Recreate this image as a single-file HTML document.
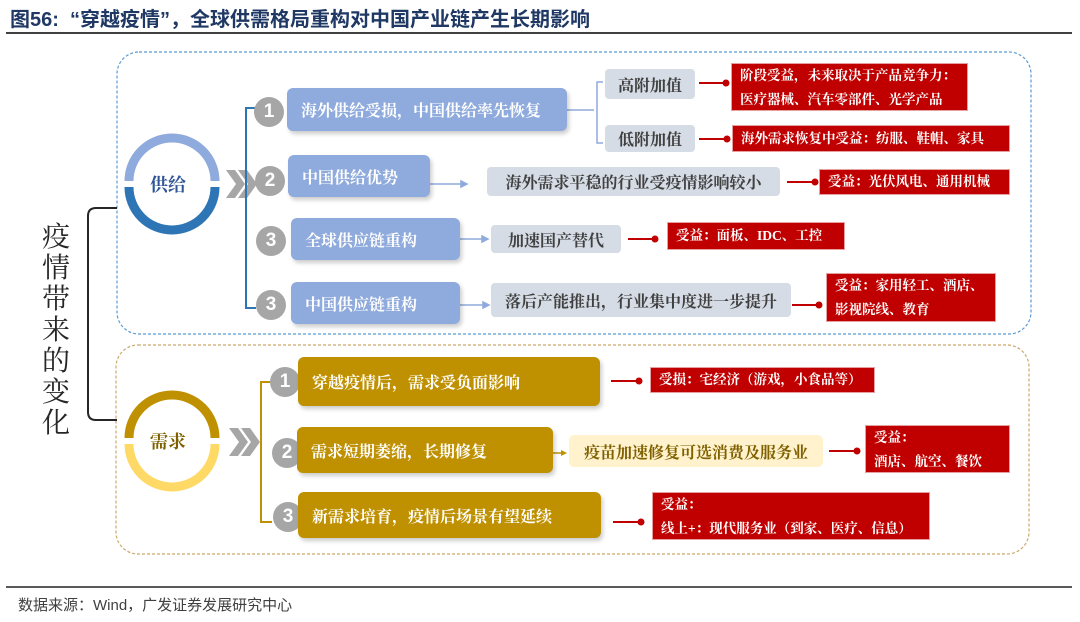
<!DOCTYPE html>
<html><head><meta charset="utf-8"><style>
*{margin:0;padding:0;box-sizing:border-box}
body{width:1080px;height:622px;background:#fff;position:relative;overflow:hidden;font-family:"Liberation Sans","Noto Sans CJK SC",sans-serif}
.a{position:absolute}
.t{display:flex;align-items:center;white-space:nowrap}
.serif{font-family:"Liberation Serif","Noto Serif CJK SC",serif;font-weight:bold}
.blue{background:#8faadc;color:#fff;border-radius:6px;font-size:16px;padding-left:14px;box-shadow:2px 3px 4px rgba(0,0,0,.2)}
.gold{background:#bf9000;color:#fff;border-radius:6px;font-size:16px;padding-left:14px;box-shadow:2px 3px 4px rgba(0,0,0,.2)}
.gray{background:#d6dce5;color:#404040;border-radius:4px;font-size:16px;justify-content:center}
.red{background:#c00000;color:#fff;font-size:13.5px;padding-left:8px;line-height:24px;border:1px solid #e6a0a0}
.num{width:30px;height:30px;border-radius:50%;background:#a6a6a6;color:#fff;font-size:19px;font-weight:bold;display:flex;align-items:center;justify-content:center;font-family:"Liberation Sans",sans-serif}
</style></head><body>
<div class="a" style="left:10px;top:3px;font-size:20px;font-weight:bold;color:#1f3864;white-space:nowrap">图<span style="font-family:'Liberation Sans'">56:</span>&nbsp;&nbsp;“穿越疫情”，全球供需格局重构对中国产业链产生长期影响</div>
<div class="a" style="left:6px;top:32px;width:1066px;height:2px;background:#404040"></div>
<div class="a" style="left:6px;top:586px;width:1066px;height:1.5px;background:#595959"></div>
<div class="a" style="left:18px;top:594px;font-size:15px;color:#404040">数据来源：Wind，广发证券发展研究中心</div>

<svg class="a" style="left:0;top:0" width="1080" height="622">
<rect x="117" y="52" width="914" height="282" rx="22" fill="none" stroke="#5b9bd5" stroke-width="1.2" stroke-dasharray="3,2"/>
<rect x="116" y="345" width="913" height="209" rx="22" fill="none" stroke="#c9a96a" stroke-width="1.2" stroke-dasharray="3,2"/>
<path d="M117 208 H96 Q88 208 88 216 V412 Q88 420 96 420 H117" fill="none" stroke="#262626" stroke-width="2"/>
<!-- supply circle -->
<path d="M129 181 A43 43 0 0 1 215 181" fill="none" stroke="#8faadc" stroke-width="9"/>
<path d="M129 187 A43 43 0 0 0 215 187" fill="none" stroke="#2e75b6" stroke-width="9"/>
<path d="M226 170 l9 0 l10 14 l-10 14 l-9 0 l10 -14z M238 170 l9 0 l10 14 l-10 14 l-9 0 l10 -14z" fill="#a6a6a6"/>
<path d="M256 108 H246 V308 H256" fill="none" stroke="#2e75b6" stroke-width="2"/>
<!-- demand circle -->
<path d="M129 438 A43 43 0 0 1 215 438" fill="none" stroke="#bf9000" stroke-width="9"/>
<path d="M129 444 A43 43 0 0 0 215 444" fill="none" stroke="#ffd966" stroke-width="9"/>
<path d="M229 428 l9 0 l10 14 l-10 14 l-9 0 l10 -14z M241 428 l9 0 l10 14 l-10 14 l-9 0 l10 -14z" fill="#a6a6a6"/>
<path d="M272 382 H261 V522 H272" fill="none" stroke="#bf9000" stroke-width="2"/>
<!-- blue connectors -->
<g stroke="#8faadc" stroke-width="1.5" fill="#8faadc">
<line x1="567" y1="110" x2="594" y2="110"/>
<path d="M603 82 H597 V143 H603" fill="none"/>
<line x1="430" y1="184" x2="463" y2="184"/><path d="M467 184 l-6 -3 v6z"/>
<line x1="460" y1="239" x2="484" y2="239"/><path d="M488 239 l-6 -3 v6z"/>
<line x1="460" y1="305" x2="485" y2="305"/><path d="M489 305 l-6 -3 v6z"/>
</g>
<line x1="553" y1="453" x2="562" y2="453" stroke="#bf9000" stroke-width="1.5"/>
<path d="M567 453 l-6 -3 v6z" fill="#bf9000"/>
<!-- red connectors -->
<g stroke="#c00000" stroke-width="2" fill="#c00000">
<line x1="699" y1="83" x2="725" y2="83"/><circle cx="726" cy="83" r="2.5"/>
<line x1="699" y1="139" x2="726" y2="139"/><circle cx="727" cy="139" r="2.5"/>
<line x1="787" y1="182" x2="814" y2="182"/><circle cx="815" cy="182" r="2.5"/>
<line x1="628" y1="239" x2="654" y2="239"/><circle cx="655" cy="239" r="2.5"/>
<line x1="792" y1="305" x2="818" y2="305"/><circle cx="819" cy="305" r="2.5"/>
<line x1="611" y1="381" x2="638" y2="381"/><circle cx="639" cy="381" r="2.5"/>
<line x1="829" y1="451" x2="856" y2="451"/><circle cx="857" cy="451" r="2.5"/>
<line x1="613" y1="522" x2="640" y2="522"/><circle cx="641" cy="522" r="2.5"/>
</g>
</svg>

<div class="a serif" style="left:40px;top:222px;width:32px;font-size:28px;line-height:31px;color:#262626;font-weight:normal;text-align:center">疫情带来的变化</div>
<div class="a serif t" style="left:150px;top:171px;font-size:18px;color:#2f5597">供给</div>
<div class="a serif t" style="left:150px;top:428px;font-size:18px;color:#7f6000">需求</div>

<div class="a num" style="left:254px;top:97px">1</div>
<div class="a num" style="left:255px;top:166px">2</div>
<div class="a num" style="left:256px;top:226px">3</div>
<div class="a num" style="left:256px;top:290px">3</div>
<div class="a num" style="left:270px;top:367px">1</div>
<div class="a num" style="left:272px;top:438px">2</div>
<div class="a num" style="left:273px;top:502px">3</div>

<div class="a t serif blue" style="left:287px;top:88px;width:280px;height:43px">海外供给受损，中国供给率先恢复</div>
<div class="a t serif blue" style="left:288px;top:155px;width:142px;height:42px">中国供给优势</div>
<div class="a t serif blue" style="left:291px;top:218px;width:169px;height:42px">全球供应链重构</div>
<div class="a t serif blue" style="left:291px;top:282px;width:169px;height:42px">中国供应链重构</div>

<div class="a t serif gray" style="left:605px;top:69px;width:90px;height:30px">高附加值</div>
<div class="a t serif gray" style="left:605px;top:125px;width:90px;height:27px">低附加值</div>
<div class="a t serif gray" style="left:487px;top:167px;width:293px;height:29px">海外需求平稳的行业受疫情影响较小</div>
<div class="a t serif gray" style="left:491px;top:225px;width:130px;height:28px">加速国产替代</div>
<div class="a t serif gray" style="left:491px;top:283px;width:300px;height:34px">落后产能推出，行业集中度进一步提升</div>

<div class="a serif red" style="left:731px;top:63px;width:237px;height:48px">阶段受益，未来取决于产品竞争力：<br>医疗器械、汽车零部件、光学产品</div>
<div class="a t serif red" style="left:732px;top:125px;width:278px;height:27px">海外需求恢复中受益：纺服、鞋帽、家具</div>
<div class="a t serif red" style="left:819px;top:169px;width:191px;height:26px">受益：光伏风电、通用机械</div>
<div class="a t serif red" style="left:667px;top:222px;width:178px;height:28px">受益：面板、IDC、工控</div>
<div class="a serif red" style="left:826px;top:273px;width:170px;height:49px">受益：家用轻工、酒店、<br>影视院线、教育</div>

<div class="a t serif gold" style="left:298px;top:357px;width:302px;height:49px">穿越疫情后，需求受负面影响</div>
<div class="a t serif gold" style="left:297px;top:427px;width:256px;height:46px">需求短期萎缩，长期修复</div>
<div class="a t serif gold" style="left:298px;top:492px;width:303px;height:46px">新需求培育，疫情后场景有望延续</div>
<div class="a t serif" style="left:569px;top:435px;width:254px;height:32px;background:#fff2cc;color:#7f6000;border-radius:5px;font-size:16px;justify-content:center">疫苗加速修复可选消费及服务业</div>

<div class="a t serif red" style="left:650px;top:367px;width:225px;height:26px">受损：宅经济（游戏，小食品等）</div>
<div class="a serif red" style="left:865px;top:425px;width:145px;height:48px">受益：<br>酒店、航空、餐饮</div>
<div class="a serif red" style="left:652px;top:492px;width:278px;height:48px">受益：<br>线上+：现代服务业（到家、医疗、信息）</div>
</body></html>
